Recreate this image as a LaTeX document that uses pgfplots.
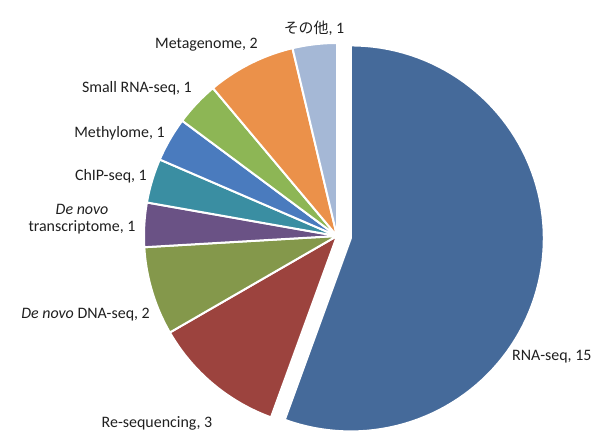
\documentclass[border=0pt]{standalone}
\usepackage{pgfplots}
\pgfplotsset{compat=1.18}
\usepackage{pgfplotstable}
\usepackage{fontspec}
\setmainfont{Carlito}
\newfontfamily\cjk{Noto Sans CJK JP}
\definecolor{c0}{HTML}{456A9A}
\definecolor{c1}{HTML}{9C433E}
\definecolor{c2}{HTML}{84984B}
\definecolor{c3}{HTML}{6A5285}
\definecolor{c4}{HTML}{3A8EA2}
\definecolor{c5}{HTML}{4A7BBE}
\definecolor{c6}{HTML}{8DB655}
\definecolor{c7}{HTML}{EB914A}
\definecolor{c8}{HTML}{A5B8D6}
\pgfplotstableread[col sep=comma]{
label,value
RNA-seq,15
Re-sequencing,3
De novo DNA-seq,2
De novo transcriptome,1
ChIP-seq,1
Methylome,1
Small RNA-seq,1
Metagenome,2
Other,1
}\piedata
\begin{document}
\begin{tikzpicture}
\useasboundingbox (0,0) rectangle (597bp,432bp);
\begin{axis}[hide axis, scale only axis, width=597bp, height=432bp,
  xmin=0, xmax=597, ymin=0, ymax=432, clip=false]
\def\cx{337}\def\cy{196}\def\r{193}
\def\tot{0}
\pgfplotsforeachungrouped \i in {0,...,8}{%
  \pgfplotstablegetelem{\i}{value}\of\piedata
  \pgfmathsetmacro\tot{\tot+\pgfplotsretval}%
}
\def\cum{0}
\pgfplotsforeachungrouped \i in {0,...,8}{%
  \pgfplotstablegetelem{\i}{value}\of\piedata
  \let\v\pgfplotsretval
  \pgfmathsetmacro\a{90-360*\cum/\tot}%
  \pgfmathsetmacro\cumnew{\cum+\v}%
  \pgfmathsetmacro\b{90-360*\cumnew/\tot}%
  \let\cum\cumnew
  \pgfmathsetmacro\mid{(\a+\b)/2}%
  \ifnum\i=0 \def\ex{14}\else\def\ex{0}\fi
  \pgfmathsetmacro\ox{\cx+\ex*cos(\mid)}%
  \pgfmathsetmacro\oy{\cy+\ex*sin(\mid)}%
  \edef\temp{\noexpand\addplot[fill=c\i, draw=white, line width=2bp, line join=round, domain=\b:\a, samples=90, variable=\noexpand\t]
    ({\ox+\r*cos(\noexpand\t)},{\oy+\r*sin(\noexpand\t)}) -- (axis cs:\ox,\oy) -- cycle;}%
  \temp
}
\tikzset{lab/.style={font=\fontsize{16}{18}\selectfont, text=black!88, inner sep=0pt}}
\node[lab, anchor=west] at (axis cs:512,75) {RNA-seq, 15};
\node[lab] at (axis cs:157,9) {Re-sequencing, 3};
\node[lab, anchor=east] at (axis cs:150,117) {\textit{De novo} DNA-seq, 2};
\node[lab, align=center] at (axis cs:82,213) {\textit{De novo}\\[-1pt]transcriptome, 1};
\node[lab, anchor=east] at (axis cs:147,256) {ChIP-seq, 1};
\node[lab, anchor=east] at (axis cs:165,299) {Methylome, 1};
\node[lab, anchor=east] at (axis cs:192,344) {Small RNA-seq, 1};
\node[lab, anchor=east] at (axis cs:258,387) {Metagenome, 2};
\node[lab] at (axis cs:314,404) {{\cjk\fontsize{15}{17}\selectfont その他}, 1};
\end{axis}
\end{tikzpicture}
\end{document}
